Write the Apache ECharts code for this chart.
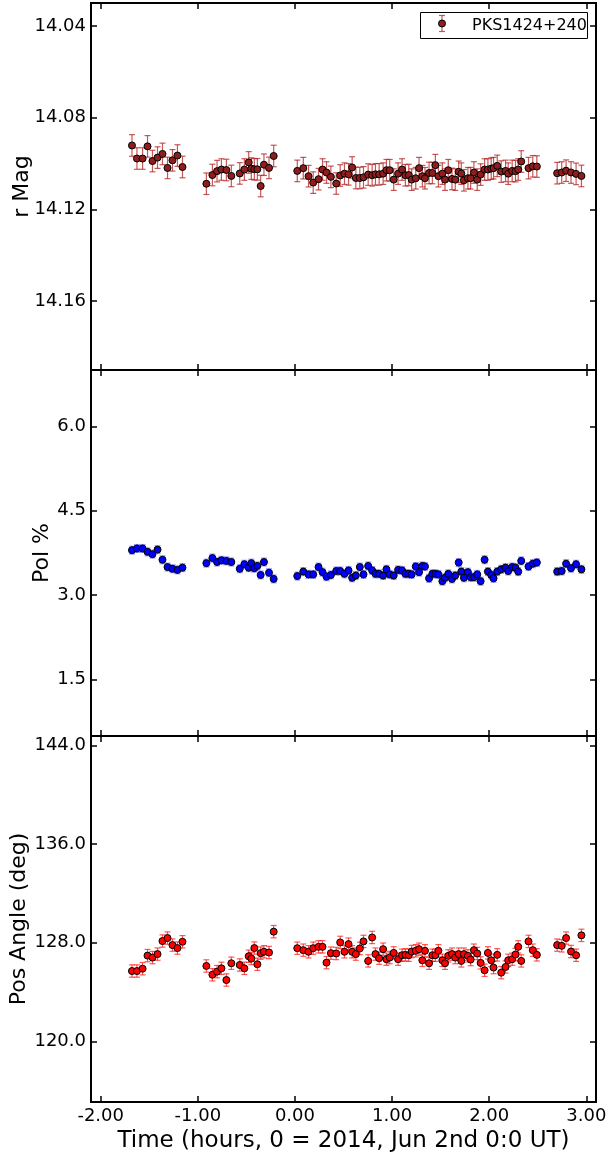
<!DOCTYPE html>
<html><head><meta charset="utf-8">
<script src="https://cdn.jsdelivr.net/npm/echarts@6/dist/echarts.min.js"></script>
<style>html,body{margin:0;padding:0;background:#fff}#c{width:609px;height:1153px}</style>
</head><body><div id="c"></div><script>
// Time (hours, 0 = 2014 Jun 2nd 0:0 UT)
const times = [
 -1.678,-1.627,-1.569,-1.518,-1.467,-1.415,-1.364,-1.312,-1.261,-1.210,-1.158,
 -0.912,-0.850,-0.802,-0.757,-0.706,-0.655,-0.568,-0.521,-0.476,-0.449,-0.418,-0.387,-0.353,-0.319,-0.267,-0.219,
 0.024,0.086,0.140,0.188,0.243,0.284,0.325,0.370,0.425,0.466,
 0.510,0.552,0.589,0.627,0.668,0.706,0.754,0.795,0.829,0.867,
 0.908,0.942,0.976,1.017,1.062,1.103,1.137,1.172,1.202,1.244,
 1.278,1.312,1.339,1.381,1.415,1.446,1.477,1.518,1.545,1.579,
 1.617,1.651,1.686,1.713,1.740,1.781,1.809,1.843,1.877,1.912,
 1.953,1.987,2.021,2.045,2.083,2.124,2.169,2.196,2.237,2.271,
 2.299,2.330,2.405,2.449,2.491,
 2.700,2.747,2.792,2.843,2.895,2.950
];
const rMag = [
 14.0921,14.0978,14.0978,14.0925,14.0989,14.0974,14.0958,14.1019,14.0986,14.0965,14.1015,
 14.1088,14.1050,14.1033,14.1026,14.1028,14.1054,14.1043,14.1026,14.0995,14.1022,14.1025,14.1025,14.1098,14.1005,14.1019,14.0967,
 14.1032,14.1020,14.1055,14.1083,14.1068,14.1026,14.1039,14.1058,14.1087,14.1052,
 14.1044,14.1047,14.1017,14.1063,14.1063,14.1060,14.1048,14.1051,14.1047,14.1047,
 14.1044,14.1029,14.1029,14.1070,14.1044,14.1026,14.1051,14.1050,14.1070,14.1064,
 14.1020,14.1055,14.1064,14.1041,14.1041,14.1007,14.1055,14.1044,14.1070,14.1029,
 14.1067,14.1070,14.1036,14.1044,14.1073,14.1064,14.1064,14.1039,14.1070,14.1048,
 14.1026,14.1026,14.1022,14.1020,14.1010,14.1035,14.1032,14.1044,14.1032,14.1033,
 14.1026,14.0991,14.1020,14.1012,14.1013,
 14.1042,14.1039,14.1031,14.1039,14.1045,14.1054
];
const polPct = [
 3.80,3.83,3.83,3.77,3.73,3.81,3.63,3.50,3.47,3.45,3.49,
 3.57,3.66,3.59,3.62,3.61,3.59,3.47,3.55,3.49,3.57,3.48,3.52,3.36,3.59,3.40,3.29,
 3.34,3.42,3.37,3.37,3.50,3.41,3.33,3.36,3.43,3.43,
 3.38,3.44,3.31,3.35,3.50,3.37,3.52,3.44,3.38,3.38,
 3.35,3.46,3.37,3.35,3.45,3.44,3.38,3.38,3.37,3.51,
 3.41,3.52,3.51,3.30,3.38,3.38,3.37,3.25,3.31,3.38,
 3.29,3.35,3.58,3.42,3.31,3.41,3.32,3.32,3.37,3.25,
 3.63,3.42,3.36,3.30,3.42,3.46,3.49,3.43,3.50,3.49,
 3.42,3.61,3.51,3.56,3.58,
 3.42,3.43,3.56,3.48,3.55,3.46
];
const posAngle = [
 125.71,125.71,125.90,126.96,126.80,127.08,128.14,128.38,127.81,127.57,128.08,
 126.12,125.41,125.66,125.93,124.98,126.34,126.20,125.93,126.91,126.72,127.57,126.26,127.16,127.27,127.21,128.90,
 127.56,127.40,127.27,127.56,127.67,127.67,126.39,127.16,127.13,128.03,
 127.27,127.89,127.27,127.08,127.54,128.11,126.53,128.43,127.08,126.75,
 127.48,126.67,126.80,127.18,126.67,126.99,127.02,126.99,127.29,127.35,
 127.48,126.58,127.35,126.34,126.99,126.99,127.35,126.58,126.34,126.94,
 127.08,126.80,127.08,126.53,127.08,126.94,126.64,127.40,127.13,126.37,
 125.77,127.18,126.58,125.99,127.02,125.58,126.04,126.58,126.67,127.05,
 127.67,126.53,128.11,127.40,127.02,
 127.81,127.75,128.38,127.29,126.99,128.60
];
const magErr = 0.0047, polErr = 0.07, paErr = 0.5;
const xTicks = [-2, -1, 0, 1, 2, 3];
const magTicks = [14.04, 14.08, 14.12, 14.16];
const polTicks = [1.5, 3.0, 4.5, 6.0];
const paTicks = [120, 128, 136, 144];
const sourceName = 'PKS1424+240';
const xTitle = 'Time (hours, 0 = 2014, Jun 2nd 0:0 UT)';

const FONT = 'DejaVu Sans';
const chart = echarts.init(document.getElementById('c'), null, {renderer: 'canvas'});

const grids = [
  {left: 91, top: 3, width: 505, height: 367},
  {left: 91, top: 370, width: 505, height: 366},
  {left: 91, top: 736, width: 505, height: 366}
].map(g => Object.assign(g, {show: true, borderColor: '#000', borderWidth: 2,
  backgroundColor: 'transparent', containLabel: false, outerBoundsMode: 'none'}));

const tickStyle = {show: true, inside: true, length: 6, lineStyle: {color: '#000', width: 1.5}};
const noLine = {show: false, onZero: false};
const xAxes = [];
for (let i = 0; i < 3; i++) {
  xAxes.push({
    type: 'value', gridIndex: i, position: 'bottom', min: -2.1, max: 3.1,
    axisLine: noLine, splitLine: {show: false},
    axisTick: Object.assign({customValues: xTicks}, tickStyle),
    axisLabel: {show: i === 2, customValues: xTicks, formatter: v => v.toFixed(2),
      fontSize: 18, color: '#000', fontFamily: FONT, margin: 5},
    name: i === 2 ? xTitle : '', nameLocation: 'middle', nameGap: 28, nameMoveOverlap: false,
    nameTextStyle: {fontSize: 23, color: '#000', fontFamily: FONT}
  });
}
for (let i = 0; i < 3; i++) {
  xAxes.push({
    type: 'value', gridIndex: i, position: 'top', min: -2.1, max: 3.1,
    axisLine: noLine, splitLine: {show: false},
    axisTick: Object.assign({customValues: xTicks}, tickStyle),
    axisLabel: {show: false}
  });
}
const yDefs = [
  {min: 14.03, max: 14.19, inverse: true, ticks: magTicks, dec: 2, name: 'r Mag', gap: 58},
  {min: 0.5, max: 7.0, inverse: false, ticks: polTicks, dec: 1, name: 'Pol %', gap: 38},
  {min: 115.1, max: 144.75, inverse: false, ticks: paTicks, dec: 1, name: 'Pos Angle (deg)', gap: 61}
];
const yAxes = [];
yDefs.forEach((d, i) => {
  yAxes.push({
    type: 'value', gridIndex: i, position: 'left', min: d.min, max: d.max, inverse: d.inverse,
    axisLine: noLine, splitLine: {show: false},
    axisTick: Object.assign({customValues: d.ticks}, tickStyle),
    axisLabel: {customValues: d.ticks, formatter: v => v.toFixed(d.dec),
      fontSize: 18, color: '#000', fontFamily: FONT, margin: 5},
    name: d.name, nameLocation: 'middle', nameGap: d.gap, nameMoveOverlap: false,
    nameTextStyle: {fontSize: 22, color: '#000', fontFamily: FONT}
  });
});
yDefs.forEach((d, i) => {
  yAxes.push({
    type: 'value', gridIndex: i, position: 'right', min: d.min, max: d.max, inverse: d.inverse,
    axisLine: noLine, splitLine: {show: false},
    axisTick: Object.assign({customValues: d.ticks}, tickStyle),
    axisLabel: {show: false}
  });
});

function errRender(color) {
  return function (params, api) {
    const x = api.value(0), y = api.value(1), e = api.value(2);
    const a = api.coord([x, y - e]), b = api.coord([x, y + e]);
    const h = 3;
    const st = {stroke: color, lineWidth: 1.2};
    return {type: 'group', children: [
      {type: 'line', shape: {x1: a[0], y1: a[1], x2: b[0], y2: b[1]}, style: st},
      {type: 'line', shape: {x1: a[0] - h, y1: a[1], x2: a[0] + h, y2: a[1]}, style: st},
      {type: 'line', shape: {x1: b[0] - h, y1: b[1], x2: b[0] + h, y2: b[1]}, style: st}
    ]};
  };
}
const panels = [
  {vals: rMag, err: magErr, fill: '#8f1d1d', ecol: 'rgba(178,34,34,0.75)'},
  {vals: polPct, err: polErr, fill: '#0000ff', ecol: 'rgba(90,90,255,0.6)'},
  {vals: posAngle, err: paErr, fill: '#ff0000', ecol: 'rgba(255,0,0,0.65)'}
];
const series = [];
panels.forEach((p, i) => {
  series.push({
    type: 'custom', xAxisIndex: i, yAxisIndex: i, renderItem: errRender(p.ecol),
    encode: {x: 0, y: 1}, z: 2, silent: true, clip: false,
    data: times.map((t, k) => [t, p.vals[k], p.err])
  });
  series.push({
    type: 'scatter', name: i === 0 ? sourceName : 'p' + i, xAxisIndex: i, yAxisIndex: i,
    symbol: 'circle', symbolSize: 7, z: 3, silent: true,
    itemStyle: {color: p.fill, borderColor: '#000', borderWidth: 1, opacity: 1},
    data: times.map((t, k) => [t, p.vals[k]])
  });
});

const graphic = [
  {type: 'rect', z: 100, shape: {x: 420.5, y: 12.5, width: 167, height: 26},
   style: {fill: '#fff', stroke: '#000', lineWidth: 1}},
  {type: 'line', z: 101, shape: {x1: 442, y1: 15.5, x2: 442, y2: 31.5}, style: {stroke: 'rgba(178,34,34,0.75)', lineWidth: 1.2}},
  {type: 'line', z: 101, shape: {x1: 439, y1: 15.5, x2: 445, y2: 15.5}, style: {stroke: 'rgba(178,34,34,0.75)', lineWidth: 1.2}},
  {type: 'line', z: 101, shape: {x1: 439, y1: 31.5, x2: 445, y2: 31.5}, style: {stroke: 'rgba(178,34,34,0.75)', lineWidth: 1.2}},
  {type: 'circle', z: 102, shape: {cx: 442, cy: 23.5, r: 3.5}, style: {fill: '#8f1d1d', stroke: '#000', lineWidth: 1}},
  {type: 'text', z: 102, x: 472, y: 25.5, style: {text: sourceName, fontSize: 16, fontFamily: FONT, fill: '#000', verticalAlign: 'middle', align: 'left'}}
];

chart.setOption({
  animation: false,
  backgroundColor: '#fff',
  grid: grids,
  xAxis: xAxes,
  yAxis: yAxes,
  series: series,
  graphic: graphic
});
</script></body></html>
